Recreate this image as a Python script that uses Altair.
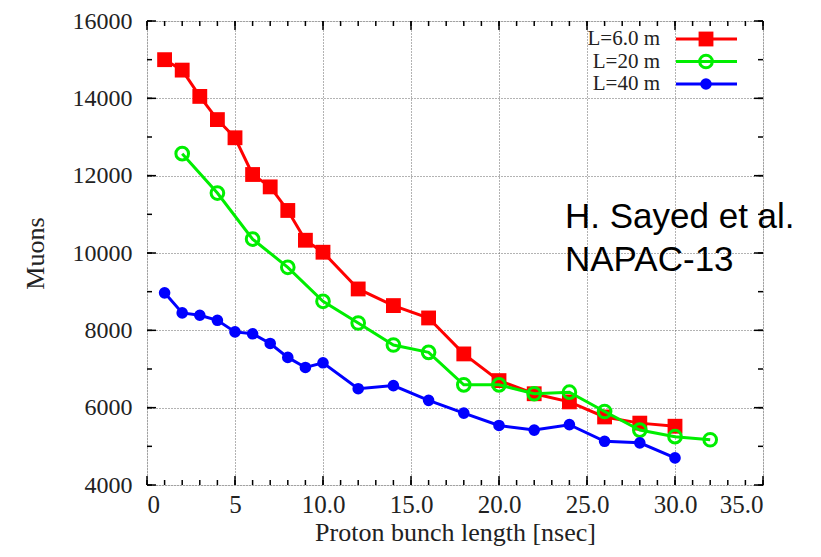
import altair as alt
import pandas as pd

# ---- data ----
x_red = [1, 2, 3, 4, 5, 6, 7, 8, 9, 10, 12, 14, 16, 18, 20, 22, 24, 26, 28, 30]
y_red = [15000, 14730, 14050, 13450, 12980, 12030, 11710, 11100, 10330, 10020,
         9070, 8640, 8320, 7390, 6700, 6360, 6150, 5760, 5600, 5520]

x_green = [2, 4, 6, 8, 10, 12, 14, 16, 18, 20, 22, 24, 26, 28, 30, 32]
y_green = [12570, 11550, 10360, 9630, 8750, 8190, 7620, 7430, 6590, 6590,
           6360, 6400, 5900, 5420, 5250, 5170]

x_blue = [1, 2, 3, 4, 5, 6, 7, 8, 9, 10, 12, 14, 16, 18, 20, 22, 24, 26, 28, 30]
y_blue = [8970, 8450, 8390, 8260, 7960, 7910, 7660, 7300, 7040, 7160,
          6490, 6570, 6190, 5860, 5540, 5420, 5560, 5130, 5090, 4700]

series_names = ["L=6.0 m", "L=20 m", "L=40 m"]
series_colors = ["#ff0000", "#00ee00", "#0000ff"]
series_shapes = ["square", "circle", "circle"]
series_filled = [True, False, True]
series_sizes = [220, 160, 135]

x_ticks = [0, 5, 10, 15, 20, 25, 30, 35]
x_minor = list(range(0, 36))
y_ticks = [4000, 6000, 8000, 10000, 12000, 14000, 16000]
y_minor = list(range(4000, 16001, 1000))

annotation = ["H. Sayed et al.", "NAPAC-13"]

W, H = 616, 464
SERIF = "Liberation Serif"

xscale = alt.Scale(domain=[0, 35], nice=False, zero=False)
yscale = alt.Scale(domain=[4000, 16000], nice=False, zero=False)

xaxis = alt.Axis(values=x_ticks, title="Proton bunch length [nsec]",
                 labelExpr="datum.value < 10 ? format(datum.value, 'd') : format(datum.value, '.1f')",
                 grid=True, gridDash=[1, 2], gridColor="#666", gridWidth=1,
                 ticks=False, domain=False, labelPadding=7, titlePadding=2,
                 labelFont=SERIF, labelFontSize=25, titleFont=SERIF, titleFontSize=26,
                 titleFontWeight="normal", labelColor="#222", titleColor="#222")
yaxis = alt.Axis(values=y_ticks, title="Muons", format="d",
                 grid=True, gridDash=[1, 2], gridColor="#666", gridWidth=1,
                 ticks=False, domain=False, labelPadding=15, titlePadding=24,
                 labelFont=SERIF, labelFontSize=24, titleFont=SERIF, titleFontSize=26,
                 titleFontWeight="normal", labelColor="#222", titleColor="#222")

xs = [x_red, x_green, x_blue]
ys = [y_red, y_green, y_blue]

layers = []
base_df = pd.DataFrame({"x": x_red, "y": y_red})
layers.append(alt.Chart(base_df).mark_point(opacity=0).encode(
    x=alt.X("x:Q", scale=xscale, axis=xaxis),
    y=alt.Y("y:Q", scale=yscale, axis=yaxis)))

def xtick_layer(vals, length):
    df = pd.DataFrame({"x": vals})
    b = alt.Chart(df).mark_rule(color="black", strokeWidth=1.5).encode(
        x=alt.X("x:Q", scale=xscale), y=alt.value(H), y2=alt.value(H - length))
    t = alt.Chart(df).mark_rule(color="black", strokeWidth=1.5).encode(
        x=alt.X("x:Q", scale=xscale), y=alt.value(0), y2=alt.value(length))
    return [b, t]

def ytick_layer(vals, length):
    df = pd.DataFrame({"y": vals})
    l = alt.Chart(df).mark_rule(color="black", strokeWidth=1.5).encode(
        y=alt.Y("y:Q", scale=yscale), x=alt.value(0), x2=alt.value(length))
    r = alt.Chart(df).mark_rule(color="black", strokeWidth=1.5).encode(
        y=alt.Y("y:Q", scale=yscale), x=alt.value(W), x2=alt.value(W - length))
    return [l, r]

layers += xtick_layer(x_minor, 5) + xtick_layer(x_ticks, 9)
layers += ytick_layer(y_minor, 5) + ytick_layer(y_ticks, 9)

for i in range(3):
    df = pd.DataFrame({"x": xs[i], "y": ys[i]})
    enc = dict(x=alt.X("x:Q", scale=xscale), y=alt.Y("y:Q", scale=yscale))
    layers.append(alt.Chart(df).mark_line(color=series_colors[i], strokeWidth=3).encode(**enc))
    layers.append(alt.Chart(df).mark_point(
        shape=series_shapes[i], filled=series_filled[i], size=series_sizes[i],
        color=series_colors[i], strokeWidth=3 if not series_filled[i] else 0,
        opacity=1, fillOpacity=1).encode(**enc))

# custom legend (top right)
leg_y = [18, 40.5, 63]
for i in range(3):
    d = pd.DataFrame({"t": [series_names[i]]})
    layers.append(alt.Chart(d).mark_text(align="right", baseline="middle", font=SERIF,
                                         fontSize=21, color="#222").encode(
        text="t:N", x=alt.value(513), y=alt.value(leg_y[i])))
    layers.append(alt.Chart(d).mark_rule(color=series_colors[i], strokeWidth=3).encode(
        x=alt.value(529), x2=alt.value(590), y=alt.value(leg_y[i])))
    layers.append(alt.Chart(d).mark_point(
        shape=series_shapes[i], filled=series_filled[i], size=series_sizes[i],
        color=series_colors[i], strokeWidth=3 if not series_filled[i] else 0,
        opacity=1, fillOpacity=1).encode(x=alt.value(559), y=alt.value(leg_y[i])))

ann_y = [207, 250]
for i, t in enumerate(annotation):
    d = pd.DataFrame({"t": [t]})
    layers.append(alt.Chart(d).mark_text(align="left", baseline="alphabetic",
                                         font="Liberation Sans", fontSize=35,
                                         color="black").encode(
        text="t:N", x=alt.value(418), y=alt.value(ann_y[i])))

chart = alt.layer(*layers).properties(
    width=W, height=H,
    autosize=alt.AutoSizeParams(type="none"),
    padding={"left": 139, "top": 13, "right": 30, "bottom": 64},
).configure_view(stroke="black", strokeWidth=2).configure(background="white")

chart.save("out.html", embed_options={"renderer": "svg", "actions": False})
